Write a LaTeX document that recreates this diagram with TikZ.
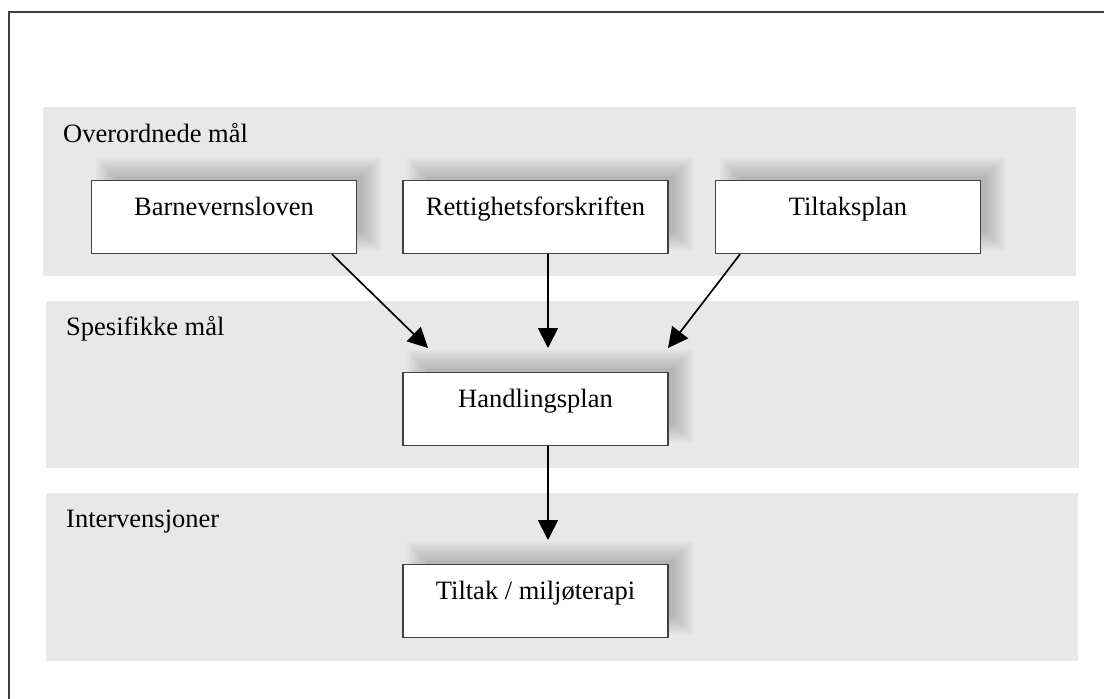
\documentclass[tikz,border=0pt]{standalone}
\usepackage{fontspec}
\setmainfont{Liberation Serif}
\usetikzlibrary{arrows.meta,calc}
\definecolor{bandgray}{HTML}{E8E8E8}
\definecolor{edgegray}{HTML}{404040}
\pgfdeclarelayer{bottom}
\pgfdeclarelayer{shadowlayer}
\pgfsetlayers{bottom,shadowlayer,main}
\begin{document}
\begin{tikzpicture}[x=1pt,y=-1pt,
  band/.style={fill=bandgray,draw=none},
  boxnode/.style={draw=edgegray,line width=1.3pt,fill=white,
    minimum width=265pt,inner xsep=0pt,inner ysep=0pt,
    text height=35pt,text depth=38pt,
    font=\fontsize{26.5}{32}\selectfont},
  shadowpiece/.style={fill=black,opacity=0.018,draw=none},
  lbl/.style={anchor=base west,inner sep=0pt,font=\fontsize{26.5}{32}\selectfont},
  arr/.style={line width=1.7pt,-{Triangle[width=20pt,length=20pt]}}]
\useasboundingbox (0,0) rectangle (1104,699);
\begin{pgfonlayer}{bottom}
\fill[white] (0,0) rectangle (1104,699);
% bands
\fill[band] (43,107) rectangle (1076,276);
\fill[band] (46,301) rectangle (1079,468);
\fill[band] (46,493) rectangle (1078,661);
\end{pgfonlayer}
% frame
\draw[edgegray,line width=1.5pt] (9,699) -- (9,12) -- (1104,12);
% band labels
\node[lbl] (l1) at (63,142) {Overordnede mål};
\node[lbl] (l2) at (66,335) {Spesifikke mål};
\node[lbl] (l3) at (66,527) {Intervensjoner};
% boxes
\node[boxnode,anchor=north] (b1) at (224,180) {Barnevernsloven};
\node[boxnode,anchor=north] (b2) at (535.5,180) {Rettighetsforskriften};
\node[boxnode,anchor=north] (b3) at (848,180) {Tiltaksplan};
\node[boxnode,anchor=north] (h) at (535.5,372) {Handlingsplan};
\node[boxnode,anchor=north] (t) at (535.5,564) {Tiltak / miljøterapi};
% soft shadows
\begin{pgfonlayer}{shadowlayer}
\foreach \n in {b1,b2,b3,h,t}{
  \foreach \r in {-10,-8,...,10}{
    \fill[shadowpiece] ($(\n.north west)+(15+\r,-13+\r)$) rectangle ($(\n.south east)+(15-\r,-13-\r)$);
  }
}
\end{pgfonlayer}
% arrow tips
\coordinate (tip1) at (428,348);
\coordinate (tip2) at (548,348);
\coordinate (tip3) at (668,348);
\coordinate (tip4) at (548,540);
% arrows
\draw[arr] ([xshift=108pt]b1.south) -- (tip1);
\draw[arr] ([xshift=12.5pt]b2.south) -- (tip2);
\draw[arr] ([xshift=-108pt]b3.south) -- (tip3);
\draw[arr] ([xshift=12.5pt]h.south) -- (tip4);
\end{tikzpicture}
\end{document}
